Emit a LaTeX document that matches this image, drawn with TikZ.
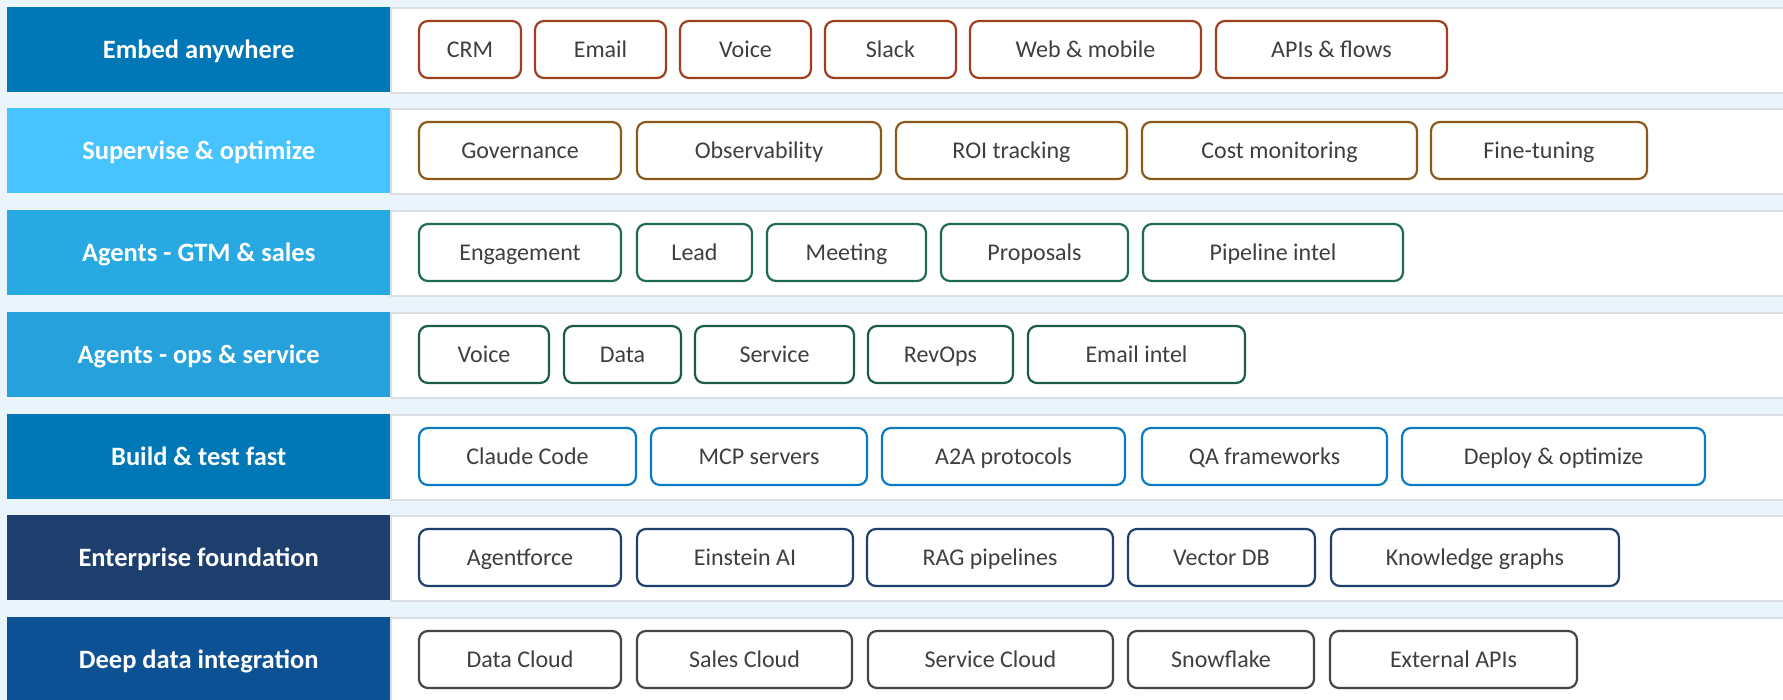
\documentclass[tikz,border=0pt]{standalone}
\usepackage{fontspec}
\setmainfont{Carlito}
\definecolor{bg}{HTML}{EAF4FB}
\definecolor{panelline}{HTML}{DCDFE2}
\definecolor{chiptext}{HTML}{3F3F3F}
\definecolor{lbA}{HTML}{0077B6}
\definecolor{lbB}{HTML}{47C4FF}
\definecolor{lbC}{HTML}{29A9E1}
\definecolor{lbD}{HTML}{26A1DB}
\definecolor{lbE}{HTML}{0077B6}
\definecolor{lbF}{HTML}{1E3E6E}
\definecolor{lbG}{HTML}{0D5195}
\definecolor{chA}{HTML}{9E3F1F}
\definecolor{chB}{HTML}{8B5A1B}
\definecolor{chC}{HTML}{1E6B50}
\definecolor{chD}{HTML}{1B5C45}
\definecolor{chE}{HTML}{0B7CC1}
\definecolor{chF}{HTML}{1F3F6F}
\definecolor{chG}{HTML}{454545}
\begin{document}
\begin{tikzpicture}[x=1pt,y=-1pt,
 lab/.style={fill=#1, text=white, font=\fontsize{26.5}{31}\selectfont\bfseries, minimum width=383pt, minimum height=85pt, inner sep=0pt, text height=22pt, text depth=5pt, anchor=north west},
 panel/.style={fill=white, draw=panelline, line width=1.6pt, minimum width=1400pt, minimum height=85pt, anchor=north west, inner sep=0pt},
 chip/.style={draw=#1, line width=2.2pt, rounded corners=9pt, fill=white, text=chiptext, font=\fontsize{24}{29}\selectfont, minimum height=57pt, inner sep=0pt, text height=20.5pt, text depth=5pt}]
\useasboundingbox (0,0) rectangle (1783,700);
\fill[bg] (0,0) rectangle (1783,700);

% Row 1
\node[panel] (p1) at (390,7) {};
\node[lab=lbA] (l1) at (7,7) {Embed anywhere};
\foreach \l/\r/\t [count=\i] in {419/521/CRM, 535/666/Email, 680/811/Voice, 825/956/Slack, 970/1201/Web \& mobile, 1216/1447/APIs \& flows}
  \node[chip=chA, minimum width={\r pt-\l pt}] (c1-\i) at ({(\l+\r)/2}, 49.5) {\t};

% Row 2
\node[panel] (p2) at (390,108) {};
\node[lab=lbB] (l2) at (7,108) {Supervise \& optimize};
\foreach \l/\r/\t [count=\i] in {419/621/Governance, 637/881/Observability, 896/1127/ROI tracking, 1142/1417/Cost monitoring, 1431/1647/Fine-tuning}
  \node[chip=chB, minimum width={\r pt-\l pt}] (c2-\i) at ({(\l+\r)/2}, 150.5) {\t};

% Row 3
\node[panel] (p3) at (390,210) {};
\node[lab=lbC] (l3) at (7,210) {Agents - GTM \& sales};
\foreach \l/\r/\t [count=\i] in {419/621/Engagement, 637/752/Lead, 767/926/Meeting, 941/1128/Proposals, 1143/1403/Pipeline intel}
  \node[chip=chC, minimum width={\r pt-\l pt}] (c3-\i) at ({(\l+\r)/2}, 252.5) {\t};

% Row 4
\node[panel] (p4) at (390,312) {};
\node[lab=lbD] (l4) at (7,312) {Agents - ops \& service};
\foreach \l/\r/\t [count=\i] in {419/549/Voice, 564/681/Data, 695/854/Service, 868/1013/RevOps, 1028/1245/Email intel}
  \node[chip=chD, minimum width={\r pt-\l pt}] (c4-\i) at ({(\l+\r)/2}, 354.5) {\t};

% Row 5
\node[panel] (p5) at (390,414) {};
\node[lab=lbE] (l5) at (7,414) {Build \& test fast};
\foreach \l/\r/\t [count=\i] in {419/636/Claude Code, 651/867/MCP servers, 882/1125/A2A protocols, 1142/1387/QA frameworks, 1402/1705/Deploy \& optimize}
  \node[chip=chE, minimum width={\r pt-\l pt}] (c5-\i) at ({(\l+\r)/2}, 456.5) {\t};

% Row 6
\node[panel] (p6) at (390,515) {};
\node[lab=lbF] (l6) at (7,515) {Enterprise foundation};
\foreach \l/\r/\t [count=\i] in {419/621/Agentforce, 637/853/Einstein AI, 867/1113/RAG pipelines, 1128/1315/Vector DB, 1331/1619/Knowledge graphs}
  \node[chip=chF, minimum width={\r pt-\l pt}] (c6-\i) at ({(\l+\r)/2}, 557.5) {\t};

% Row 7
\node[panel] (p7) at (390,617) {};
\node[lab=lbG] (l7) at (7,617) {Deep data integration};
\foreach \l/\r/\t [count=\i] in {419/621/Data Cloud, 637/852/Sales Cloud, 868/1113/Service Cloud, 1128/1314/Snowflake, 1330/1577/External APIs}
  \node[chip=chG, minimum width={\r pt-\l pt}] (c7-\i) at ({(\l+\r)/2}, 659.5) {\t};
\end{tikzpicture}
\end{document}
